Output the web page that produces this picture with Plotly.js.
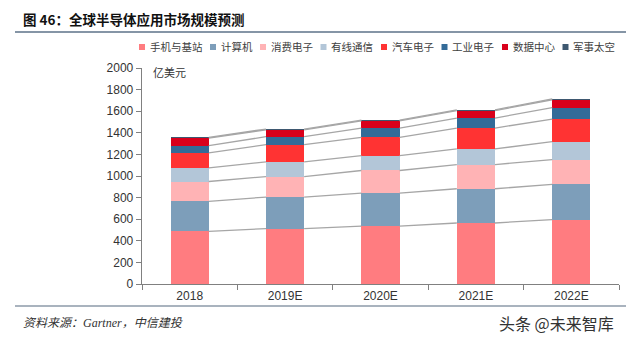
<!DOCTYPE html>
<html>
<head>
<meta charset="utf-8">
<script src="https://cdn.plot.ly/plotly-3.0.1.min.js"></script>
<style>html,body{margin:0;padding:0;background:#fff;}#chart{width:640px;height:345px;}</style>
</head>
<body>
<div id="chart"></div>
<script>
// ---- data (亿美元) ----
var years = ['2018', '2019E', '2020E', '2021E', '2022E'];
var seriesNames = ['手机与基站', '计算机', '消费电子', '有线通信', '汽车电子', '工业电子', '数据中心', '军事太空'];
var mobile     = [488, 513, 535, 565, 596];
var computer   = [277, 292, 307, 317, 326];
var consumer   = [184, 190, 209, 224, 230];
var wired      = [126, 136, 138, 145, 166];
var automotive = [139, 159, 169, 193, 209];
var industrial = [67, 74, 86, 92, 107];
var datacenter = [70, 64, 66, 69, 72];
var military   = [7, 7, 8, 8, 8];
var seriesValues = [mobile, computer, consumer, wired, automotive, industrial, datacenter, military];
var colors = ['#FF7C80', '#7D9EBA', '#FFB3B5', '#B3C6D8', '#FF3333', '#336B98', '#D9001B', '#3E5870'];

// ---- geometry helpers (layout only) ----
var W = 640, H = 345, ML = 142, MR = 21, MT = 68, MB = 61;
var PW = W - ML - MR, PH = H - MT - MB;
function px(x) { return (x - ML) / PW; }
function py(y) { return (H - MB - y) / PH; }
var bargap = 0.6, half = (1 - bargap) / 2;

var cjk = 'Noto Sans CJK SC, sans-serif';
var traces = [];
seriesNames.forEach(function (name, k) {
  traces.push({
    type: 'bar', name: name, x: years, y: seriesValues[k],
    marker: { color: colors[k], line: { width: 0 } },
    showlegend: false, hoverinfo: 'x+y+name'
  });
});

// series lines connecting cumulative tops between adjacent bars
var cum = [];
seriesValues.forEach(function (vals, k) {
  cum.push(vals.map(function (v, i) { return v + (k > 0 ? cum[k - 1][i] : 0); }));
});
var lx = [], ly = [];
cum.forEach(function (c) {
  for (var i = 0; i < years.length - 1; i++) {
    lx.push(i + half, i + 1 - half, null);
    ly.push(c[i], c[i + 1], null);
  }
});
traces.push({
  type: 'scatter', mode: 'lines', x: lx, y: ly, xaxis: 'x2', yaxis: 'y',
  line: { color: '#A6A6A6', width: 1.3 }, showlegend: false, hoverinfo: 'skip',
  connectgaps: false
});

// custom legend
var shapes = [], annotations = [];
var lgFont = 10.5, lgY = 47, cur = 139;
seriesNames.forEach(function (name, k) {
  shapes.push({ type: 'rect', xref: 'paper', yref: 'paper',
    x0: px(cur), x1: px(cur + 6), y0: py(lgY + 3), y1: py(lgY - 3),
    fillcolor: colors[k], line: { width: 0 } });
  var tx = cur + 8.5;
  annotations.push({ xref: 'paper', yref: 'paper', x: px(tx), y: py(lgY), xanchor: 'left', yanchor: 'middle',
    text: name, showarrow: false, font: { family: cjk, size: lgFont, color: '#404040' } });
  cur = tx + name.length * lgFont + 10;
});

// title, separator lines, notes
shapes.push({ type: 'line', xref: 'paper', yref: 'paper', x0: px(15), x1: px(626), y0: py(32), y1: py(32),
  line: { color: '#8595A6', width: 2 } });
shapes.push({ type: 'line', xref: 'paper', yref: 'paper', x0: px(15), x1: px(626), y0: py(306), y1: py(306),
  line: { color: '#8D9AA8', width: 1.5 } });
annotations.push({ xref: 'paper', yref: 'paper', x: px(21), y: py(19), xanchor: 'left', yanchor: 'middle',
  text: '<b>图 46：全球半导体应用市场规模预测</b>', showarrow: false,
  font: { family: cjk, size: 13.5, color: '#111111' } });
annotations.push({ xref: 'paper', yref: 'paper', x: px(151), y: py(72), xanchor: 'left', yanchor: 'middle',
  text: '亿美元', showarrow: false, font: { family: cjk, size: 11, color: '#333333' } });
annotations.push({ xref: 'paper', yref: 'paper', x: px(21), y: py(321), xanchor: 'left', yanchor: 'middle',
  text: '<i>资料来源：<span style="font-family:Liberation Serif">Gartner</span>，中信建投</i>', showarrow: false,
  font: { family: cjk, size: 12, color: '#333333' } });
annotations.push({ xref: 'paper', yref: 'paper', x: px(616), y: py(323), xanchor: 'right', yanchor: 'middle',
  text: '头条 @未来智库', showarrow: false, font: { family: cjk, size: 16, color: '#333333' } });

var layout = {
  width: W, height: H,
  margin: { l: ML, r: MR, t: MT, b: MB, pad: 0 },
  paper_bgcolor: '#ffffff', plot_bgcolor: '#ffffff',
  barmode: 'stack', bargap: bargap,
  showlegend: false,
  xaxis: {
    type: 'category', tickson: 'boundaries', ticks: 'outside', ticklen: 5, tickcolor: '#808080',
    showline: true, linecolor: '#808080', linewidth: 1.3, showgrid: false, zeroline: false,
    tickfont: { family: 'Liberation Sans, Arial, sans-serif', size: 12, color: '#333333' },
    range: [-0.5, years.length - 0.5], fixedrange: true
  },
  xaxis2: { overlaying: 'x', range: [-0.5, years.length - 0.5], visible: false, fixedrange: true },
  yaxis: {
    range: [0, 2000], dtick: 200, ticks: 'outside', ticklen: 5, tickcolor: '#808080',
    showline: true, linecolor: '#808080', linewidth: 1.3, showgrid: false, zeroline: false,
    tickfont: { family: 'Liberation Sans, Arial, sans-serif', size: 12, color: '#333333' },
    fixedrange: true
  },
  shapes: shapes,
  annotations: annotations
};

Plotly.newPlot('chart', traces, layout, { displayModeBar: false, staticPlot: true });
</script>
</body>
</html>
